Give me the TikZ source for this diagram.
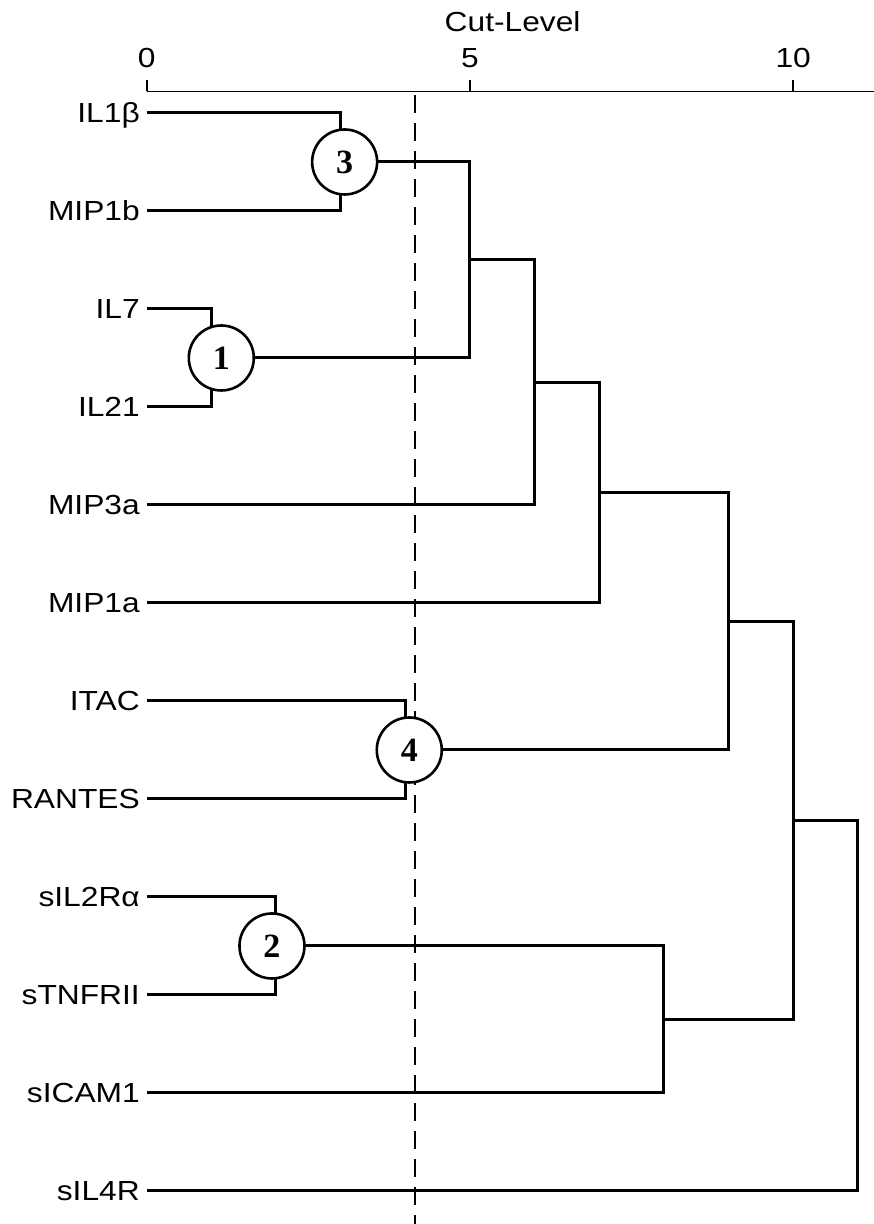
\documentclass[tikz,border=0pt]{standalone}
\usepackage{fontspec}
\setmainfont{Liberation Sans}[FakeStretch=1.15]
\newfontfamily\numfont{Liberation Serif}
\usepackage{tikz}

\begin{document}
\begin{tikzpicture}[x=32.33pt,y=-49pt,
  tree/.style={line width=1.5pt},
  lbl/.style={inner sep=0pt,text height=9.8pt,text depth=0pt,font=\fontsize{13.8}{16}\selectfont},
  leaf/.style={lbl,anchor=east},
  cluster/.style={circle,draw,line width=1.3pt,fill=white,minimum size=32.5pt,inner sep=0pt,
    font=\numfont\bfseries\fontsize{17}{20}\selectfont}]

\useasboundingbox (-2.268,-0.153) rectangle (11.246,12.337);

% Axis on top
\draw[line width=0.9pt] (0,0.78) -- (11.246,0.78);
\foreach \t in {0,5,10}{
  \draw[line width=0.9pt] (\t,0.78) -- (\t,0.66);
  \node[lbl] (tick\t) at (\t,0.44) {\t};
}
\node[lbl] (axistitle) at (5.66,0.07) {Cut-Level};

% Leaves
\foreach \name [count=\i] in {IL1β,MIP1b,IL7,IL21,MIP3a,MIP1a,ITAC,RANTES,sIL2Rα,sTNFRII,sICAM1,sIL4R}{
  \node[leaf] (n\i) at (-0.1,\i) {\name};
  \coordinate (c\i) at (0,\i);
}

% Merge points
\coordinate (m1) at (1,3.5);
\coordinate (m2) at (2,9.5);
\coordinate (m3) at (3,1.5);
\coordinate (m4) at (4,7.5);
\coordinate (m5) at (5,2.5);
\coordinate (m6) at (6,3.75);
\coordinate (m7) at (7,4.875);
\coordinate (m8) at (8,10.25);
\coordinate (m9) at (9,6.1875);
\coordinate (m10) at (10,8.21875);
\coordinate (m11) at (11,10.109);

% Tree
\draw[tree] (c1) -| (m3) |- (c2);
\draw[tree] (c3) -| (m1) |- (c4);
\draw[tree] (m3) -| (m5) |- (m1);
\draw[tree] (m5) -| (m6) |- (c5);
\draw[tree] (m6) -| (m7) |- (c6);
\draw[tree] (c7) -| (m4) |- (c8);
\draw[tree] (m7) -| (m9) |- (m4);
\draw[tree] (c9) -| (m2) |- (c10);
\draw[tree] (m2) -| (m8) |- (c11);
\draw[tree] (m9) -| (m10) |- (m8);
\draw[tree] (m10) -| (m11) |- (c12);

% Cut line
\coordinate (cuttop) at (4.15,0.82);
\coordinate (cutbot) at (4.15,12.337);
\draw[line width=0.8pt,dash pattern=on 9pt off 5pt] (cuttop) -- (cutbot);

% Numbered clusters
\node[cluster] (k1) at ([xshift=5pt]m1) {1};
\node[cluster] (k2) at ([xshift=-2pt]m2) {2};
\node[cluster] (k3) at ([xshift=2pt]m3) {3};
\node[cluster] (k4) at ([xshift=2pt]m4) {4};

\end{tikzpicture}
\end{document}
